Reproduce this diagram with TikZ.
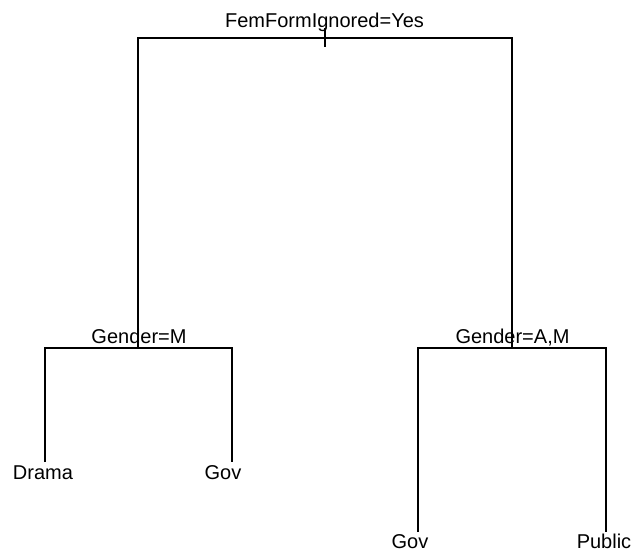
\documentclass[tikz,border=0pt]{standalone}
\usepackage{fontspec}
\setmainfont{Liberation Sans}
\begin{document}
\begin{tikzpicture}[x=1pt,y=1pt,
  edge/.style={line width=1.3pt,black},
  lbl/.style={anchor=base,inner sep=0pt,font=\fontsize{20}{24}\selectfont}]
\useasboundingbox (0,0) rectangle (634,552);
% split points
\coordinate (rtop) at (325,524);
\coordinate (rbot) at (325,505);
\coordinate (rL) at (138,514);
\coordinate (rR) at (512,514);
\coordinate (a) at (138,204);
\coordinate (b) at (512,204);
\coordinate (aL) at (45,204);
\coordinate (aR) at (232,204);
\coordinate (bL) at (418,204);
\coordinate (bR) at (606,204);
\coordinate (l1) at (45,90);
\coordinate (l2) at (232,90);
\coordinate (l3) at (418,20);
\coordinate (l4) at (606,20);
% labels
\node[lbl] (root) at (324.5,524) {FemFormIgnored=Yes};
\node[lbl] (g1) at (139,208) {Gender=M};
\node[lbl] (g2) at (512.5,209) {Gender=A,M};
\node[lbl] (t1) at (43,73) {Drama};
\node[lbl] (t2) at (223,73) {Gov};
\node[lbl] (t3) at (410,4) {Gov};
\node[lbl] (t4) at (604,4) {Public};
% edges
\draw[edge] (rtop) -- (rbot);
\draw[edge] (a) -- (rL) -- (rR) -- (b);
\draw[edge] (l1) -- (aL) -- (aR) -- (l2);
\draw[edge] (l3) -- (bL) -- (bR) -- (l4);
\end{tikzpicture}
\end{document}
